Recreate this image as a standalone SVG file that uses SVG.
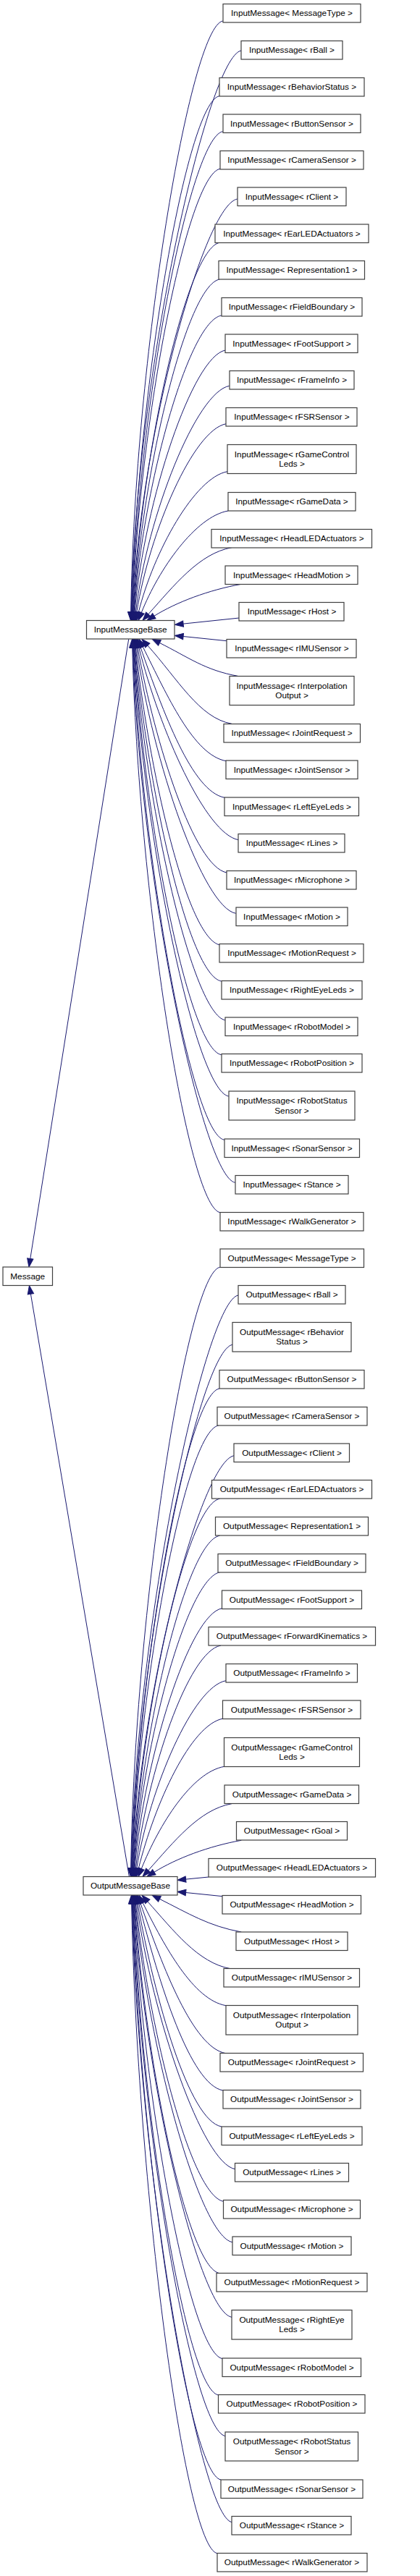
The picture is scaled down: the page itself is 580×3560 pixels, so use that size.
<svg xmlns="http://www.w3.org/2000/svg" width="580" height="3560" viewBox="0 0 580 3560">
<style>
.n rect{fill:#fff;stroke:#404040;stroke-width:1.2}
.n text{font-family:"Liberation Sans",Arial,Helvetica,sans-serif;font-size:11.8px;fill:#000;text-anchor:middle}
.e{fill:none;stroke:#191970;stroke-width:1;marker-end:url(#ah)}
</style>
<defs>
<marker id="ah" markerUnits="userSpaceOnUse" viewBox="0 -5 13 10" refX="0" refY="0" markerWidth="13" markerHeight="10" orient="auto" overflow="visible"><path d="M0,-4.2 L11.7,0 L0,4.2 Z" fill="#191970" stroke="#191970" stroke-width="1"/></marker>
</defs>
<rect width="580" height="3560" fill="#fff"/>
<g id="edges">
<path class="e" d="M177.7,883.3 L41.8,1739.4"/>
<path class="e" d="M178.4,2593.5 L42.4,1788.2"/>
<path class="e" d="M307.7,29 C262.7,37 186,494.6 180.7,845.8"/>
<path class="e" d="M333,70 C288,78 187.9,512.2 181.2,845.8"/>
<path class="e" d="M303,132.7 C258,140.7 189.5,539.2 181.8,845.8"/>
<path class="e" d="M307.7,181.7 C262.7,189.7 191,560.2 182.4,845.8"/>
<path class="e" d="M304,233.3 C259,241.3 192.1,582.4 182.9,845.8"/>
<path class="e" d="M327.7,275 C282.7,283 193.3,600.4 183.5,845.8"/>
<path class="e" d="M303.3,335.3 C258.3,343.3 195.1,626.3 184.1,845.8"/>
<path class="e" d="M303.3,386 C258.3,394 196.6,648.1 184.7,845.8"/>
<path class="e" d="M305.7,436 C260.7,444 197.6,669.6 185.3,845.8"/>
<path class="e" d="M311.3,484 C266.3,492 200,690.2 186,845.8"/>
<path class="e" d="M316.7,533.3 C271.7,541.3 203.5,711.5 187.4,845.9"/>
<path class="e" d="M312.3,585.7 C267.3,593.7 206.7,734 188.8,845.9"/>
<path class="e" d="M314,651.7 C269,659.7 212.2,762.5 191.3,846.1"/>
<path class="e" d="M315,706 C270,714 219.5,786.1 195.3,846.6"/>
<path class="e" d="M320,756.7 C275,764.7 240.4,809.2 204.8,848.8"/>
<path class="e" d="M333.3,807.3 C288.3,815.3 243.2,832.4 212.9,851.3"/>
<path class="e" d="M330.3,854 L253.1,862.1"/>
<path class="e" d="M313,885.7 L253.1,879.5"/>
<path class="e" d="M328.3,934.3 C283.3,926.3 259.9,908.2 220.5,888.5"/>
<path class="e" d="M320,1000.3 C275,992.3 245.7,938.6 203.8,892"/>
<path class="e" d="M312.3,1051.7 C267.3,1043.7 231.2,961.7 197.2,893.8"/>
<path class="e" d="M310.3,1102.3 C265.3,1094.3 225.2,983.7 193.9,894.3"/>
<path class="e" d="M329.3,1160.7 C284.3,1152.7 220.4,1009.1 191.8,894.7"/>
<path class="e" d="M313.3,1206 C268.3,1198 214.2,1028.6 190.1,894.8"/>
<path class="e" d="M325.7,1262.3 C280.7,1254.3 210.7,1052.9 188.6,894.9"/>
<path class="e" d="M304,1306 C259,1298 206.7,1071.7 187.3,894.9"/>
<path class="e" d="M305.7,1356 C260.7,1348 204.3,1093.2 186.5,895"/>
<path class="e" d="M311.3,1410 C266.3,1402 201.3,1116.5 185.8,895"/>
<path class="e" d="M305.7,1457.7 C260.7,1449.7 199.7,1137 185.2,895"/>
<path class="e" d="M315.7,1515 C270.7,1507 197.9,1161.6 184.6,895"/>
<path class="e" d="M309.7,1575.3 C264.7,1567.3 195.7,1187.5 184,895"/>
<path class="e" d="M324.7,1634.3 C279.7,1626.3 192.9,1212.9 183.4,895"/>
<path class="e" d="M304,1675.7 C259,1667.7 191.2,1230.7 182.8,895"/>
<path class="e" d="M303.7,1751.3 C258.7,1759.3 186.1,2224.7 180.7,2581.8"/>
<path class="e" d="M329,1790 C284,1798 188,2241.3 181.2,2581.8"/>
<path class="e" d="M321,1858.3 C276,1866.3 189.6,2270.7 181.8,2581.8"/>
<path class="e" d="M303,1919 C258,1927 191,2296.8 182.4,2581.8"/>
<path class="e" d="M301.7,1970 C256.7,1978 192.1,2318.7 182.9,2581.8"/>
<path class="e" d="M323.3,2011.7 C278.3,2019.7 193.3,2336.7 183.5,2581.8"/>
<path class="e" d="M303.3,2071.3 C258.3,2079.3 195.1,2362.3 184.1,2581.8"/>
<path class="e" d="M303.3,2122.3 C258.3,2130.3 196.6,2384.2 184.7,2581.8"/>
<path class="e" d="M304,2172.7 C259,2180.7 197.6,2405.9 185.3,2581.8"/>
<path class="e" d="M306.7,2222.7 C261.7,2230.7 199.9,2427.4 186,2581.8"/>
<path class="e" d="M305,2274 C260,2282 203.3,2449.5 187.4,2581.9"/>
<path class="e" d="M312,2322.7 C267,2330.7 206.6,2470.4 188.8,2581.9"/>
<path class="e" d="M308.3,2375 C263.3,2383 213.6,2493 191.3,2582.1"/>
<path class="e" d="M309.7,2441.3 C264.7,2449.3 219.6,2521.8 195.3,2582.6"/>
<path class="e" d="M320,2492.7 C275,2500.7 240.4,2545.2 204.8,2584.8"/>
<path class="e" d="M333.3,2543.3 C288.3,2551.3 243.2,2568.4 212.9,2587.3"/>
<path class="e" d="M288,2594 L256.6,2597.1"/>
<path class="e" d="M307.3,2620.7 L256.6,2615.5"/>
<path class="e" d="M333.3,2670 C288.3,2662 259.7,2644 220.5,2624.4"/>
<path class="e" d="M318.3,2720.7 C273.3,2712.7 239.7,2667.8 203.8,2627.9"/>
<path class="e" d="M312,2771.7 C267,2763.7 227.8,2690.8 197.2,2629.7"/>
<path class="e" d="M311.7,2837.7 C266.7,2829.7 225.1,2719.4 193.9,2630.2"/>
<path class="e" d="M308,2889 C263,2881 219.6,2741.7 191.8,2630.6"/>
<path class="e" d="M306,2939 C261,2931 214,2763.3 190.1,2630.7"/>
<path class="e" d="M324.7,2997.7 C279.7,2989.7 210.7,2788.6 188.6,2630.8"/>
<path class="e" d="M308.7,3042.3 C263.7,3034.3 206.8,2807.7 187.3,2630.8"/>
<path class="e" d="M321,3098.7 C276,3090.7 204.6,2832.1 186.5,2630.9"/>
<path class="e" d="M303.3,3141.7 C258.3,3133.7 201.2,2850.5 185.8,2630.9"/>
<path class="e" d="M320,3202.3 C275,3194.3 199.9,2876.6 185.2,2630.9"/>
<path class="e" d="M307.3,3259.7 C262.3,3251.7 198.1,2901.3 184.6,2630.9"/>
<path class="e" d="M301.7,3310 C256.7,3302 195.7,2922.9 184,2630.9"/>
<path class="e" d="M311.3,3366.7 C266.3,3358.7 194.5,2947.3 183.4,2630.9"/>
<path class="e" d="M305,3427 C260,3419 193.2,2973.2 182.9,2630.9"/>
<path class="e" d="M320.3,3485.7 C275.3,3477.7 191.5,2998.5 182.3,2630.9"/>
<path class="e" d="M300,3528.7 C255,3520.7 189.4,3017 181.7,2630.9"/>
</g>
<g id="message" class="n"><rect x="4" y="1751" width="68.5" height="25.5"/><text x="38.2" y="1767.8">Message</text></g>
<g id="inputmessagebase" class="n"><rect x="119.5" y="857.5" width="121.5" height="25.5"/><text x="180.2" y="874.3">InputMessageBase</text></g>
<g id="outputmessagebase" class="n"><rect x="115" y="2593.5" width="130" height="25.5"/><text x="180" y="2610.3">OutputMessageBase</text></g>
<g id="in1" class="n"><rect x="308" y="5.5" width="190" height="25.5"/><text x="403" y="22.3">InputMessage&lt; MessageType &gt;</text></g>
<g id="in2" class="n"><rect x="333" y="56.5" width="140" height="25.5"/><text x="403" y="73.3">InputMessage&lt; rBall &gt;</text></g>
<g id="in3" class="n"><rect x="303" y="107.5" width="200" height="25.5"/><text x="403" y="124.3">InputMessage&lt; rBehaviorStatus &gt;</text></g>
<g id="in4" class="n"><rect x="308" y="158" width="190" height="25.5"/><text x="403" y="174.8">InputMessage&lt; rButtonSensor &gt;</text></g>
<g id="in5" class="n"><rect x="304" y="208.5" width="198" height="25.5"/><text x="403" y="225.3">InputMessage&lt; rCameraSensor &gt;</text></g>
<g id="in6" class="n"><rect x="328" y="259" width="150" height="25.5"/><text x="403" y="275.8">InputMessage&lt; rClient &gt;</text></g>
<g id="in7" class="n"><rect x="297" y="310" width="212" height="25.5"/><text x="403" y="326.8">InputMessage&lt; rEarLEDActuators &gt;</text></g>
<g id="in8" class="n"><rect x="302" y="360.5" width="201.5" height="25.5"/><text x="403" y="377.3">InputMessage&lt; Representation1 &gt;</text></g>
<g id="in9" class="n"><rect x="306" y="411.5" width="194" height="25.5"/><text x="403" y="428.3">InputMessage&lt; rFieldBoundary &gt;</text></g>
<g id="in10" class="n"><rect x="311" y="462" width="183" height="25.5"/><text x="403" y="478.8">InputMessage&lt; rFootSupport &gt;</text></g>
<g id="in11" class="n"><rect x="317" y="512.5" width="172" height="25.5"/><text x="403" y="529.3">InputMessage&lt; rFrameInfo &gt;</text></g>
<g id="in12" class="n"><rect x="312" y="563.5" width="181" height="25.5"/><text x="403" y="580.3">InputMessage&lt; rFSRSensor &gt;</text></g>
<g id="in13" class="n"><rect x="314" y="614.5" width="178" height="40"/><text x="403" y="631.7">InputMessage&lt; rGameControl</text><text x="403" y="645.2">Leds &gt;</text></g>
<g id="in14" class="n"><rect x="315" y="680.5" width="176" height="25.5"/><text x="403" y="697.3">InputMessage&lt; rGameData &gt;</text></g>
<g id="in15" class="n"><rect x="292" y="731.5" width="221.5" height="25.5"/><text x="403" y="748.3">InputMessage&lt; rHeadLEDActuators &gt;</text></g>
<g id="in16" class="n"><rect x="311" y="782" width="183" height="25.5"/><text x="403" y="798.8">InputMessage&lt; rHeadMotion &gt;</text></g>
<g id="in17" class="n"><rect x="330" y="832.5" width="145" height="25.5"/><text x="403" y="849.3">InputMessage&lt; rHost &gt;</text></g>
<g id="in18" class="n"><rect x="313" y="883.5" width="179" height="25.5"/><text x="403" y="900.3">InputMessage&lt; rIMUSensor &gt;</text></g>
<g id="in19" class="n"><rect x="317" y="934.5" width="172" height="40"/><text x="403" y="951.7">InputMessage&lt; rInterpolation</text><text x="403" y="965.2">Output &gt;</text></g>
<g id="in20" class="n"><rect x="309" y="1000.5" width="188.5" height="25.5"/><text x="403" y="1017.3">InputMessage&lt; rJointRequest &gt;</text></g>
<g id="in21" class="n"><rect x="312" y="1051" width="182" height="25.5"/><text x="403" y="1067.8">InputMessage&lt; rJointSensor &gt;</text></g>
<g id="in22" class="n"><rect x="310" y="1102" width="185.5" height="25.5"/><text x="403" y="1118.8">InputMessage&lt; rLeftEyeLeds &gt;</text></g>
<g id="in23" class="n"><rect x="329" y="1152.5" width="147" height="25.5"/><text x="403" y="1169.3">InputMessage&lt; rLines &gt;</text></g>
<g id="in24" class="n"><rect x="313" y="1203.5" width="179" height="25.5"/><text x="403" y="1220.3">InputMessage&lt; rMicrophone &gt;</text></g>
<g id="in25" class="n"><rect x="326" y="1254" width="154" height="25.5"/><text x="403" y="1270.8">InputMessage&lt; rMotion &gt;</text></g>
<g id="in26" class="n"><rect x="303" y="1304.5" width="199" height="25.5"/><text x="403" y="1321.3">InputMessage&lt; rMotionRequest &gt;</text></g>
<g id="in27" class="n"><rect x="306" y="1355.5" width="194" height="25.5"/><text x="403" y="1372.3">InputMessage&lt; rRightEyeLeds &gt;</text></g>
<g id="in28" class="n"><rect x="311" y="1406" width="183" height="25.5"/><text x="403" y="1422.8">InputMessage&lt; rRobotModel &gt;</text></g>
<g id="in29" class="n"><rect x="306" y="1456.5" width="194" height="25.5"/><text x="403" y="1473.3">InputMessage&lt; rRobotPosition &gt;</text></g>
<g id="in30" class="n"><rect x="316" y="1508" width="174" height="40"/><text x="403" y="1525.2">InputMessage&lt; rRobotStatus</text><text x="403" y="1538.7">Sensor &gt;</text></g>
<g id="in31" class="n"><rect x="310" y="1574" width="186.5" height="25.5"/><text x="403" y="1590.8">InputMessage&lt; rSonarSensor &gt;</text></g>
<g id="in32" class="n"><rect x="325" y="1624.5" width="156" height="25.5"/><text x="403" y="1641.3">InputMessage&lt; rStance &gt;</text></g>
<g id="in33" class="n"><rect x="304" y="1675.5" width="198" height="25.5"/><text x="403" y="1692.3">InputMessage&lt; rWalkGenerator &gt;</text></g>
<g id="out1" class="n"><rect x="304" y="1726" width="198.5" height="25.5"/><text x="403" y="1742.8">OutputMessage&lt; MessageType &gt;</text></g>
<g id="out2" class="n"><rect x="329" y="1776.5" width="148" height="25.5"/><text x="403" y="1793.3">OutputMessage&lt; rBall &gt;</text></g>
<g id="out3" class="n"><rect x="321" y="1827.5" width="164" height="40.5"/><text x="403" y="1844.7">OutputMessage&lt; rBehavior</text><text x="403" y="1858.2">Status &gt;</text></g>
<g id="out4" class="n"><rect x="303" y="1893.5" width="200" height="25.5"/><text x="403" y="1910.3">OutputMessage&lt; rButtonSensor &gt;</text></g>
<g id="out5" class="n"><rect x="300" y="1944.5" width="207" height="25.5"/><text x="403" y="1961.3">OutputMessage&lt; rCameraSensor &gt;</text></g>
<g id="out6" class="n"><rect x="323" y="1995" width="159.5" height="25.5"/><text x="403" y="2011.8">OutputMessage&lt; rClient &gt;</text></g>
<g id="out7" class="n"><rect x="292.5" y="2045.5" width="221" height="25.5"/><text x="403" y="2062.3">OutputMessage&lt; rEarLEDActuators &gt;</text></g>
<g id="out8" class="n"><rect x="297.5" y="2096.5" width="211" height="25.5"/><text x="403" y="2113.3">OutputMessage&lt; Representation1 &gt;</text></g>
<g id="out9" class="n"><rect x="301" y="2147.5" width="204" height="25.5"/><text x="403" y="2164.3">OutputMessage&lt; rFieldBoundary &gt;</text></g>
<g id="out10" class="n"><rect x="306.5" y="2198" width="193" height="25.5"/><text x="403" y="2214.8">OutputMessage&lt; rFootSupport &gt;</text></g>
<g id="out11" class="n"><rect x="288" y="2248.5" width="230.5" height="25.5"/><text x="403" y="2265.3">OutputMessage&lt; rForwardKinematics &gt;</text></g>
<g id="out12" class="n"><rect x="312" y="2299.5" width="181.5" height="25.5"/><text x="403" y="2316.3">OutputMessage&lt; rFrameInfo &gt;</text></g>
<g id="out13" class="n"><rect x="307.5" y="2350" width="190.5" height="25.5"/><text x="403" y="2366.8">OutputMessage&lt; rFSRSensor &gt;</text></g>
<g id="out14" class="n"><rect x="309.5" y="2401.5" width="187" height="40"/><text x="403" y="2418.7">OutputMessage&lt; rGameControl</text><text x="403" y="2432.2">Leds &gt;</text></g>
<g id="out15" class="n"><rect x="310" y="2467" width="185.5" height="25.5"/><text x="403" y="2483.8">OutputMessage&lt; rGameData &gt;</text></g>
<g id="out16" class="n"><rect x="326.5" y="2517.5" width="153" height="25.5"/><text x="403" y="2534.3">OutputMessage&lt; rGoal &gt;</text></g>
<g id="out17" class="n"><rect x="288" y="2568.5" width="230.5" height="25.5"/><text x="403" y="2585.3">OutputMessage&lt; rHeadLEDActuators &gt;</text></g>
<g id="out18" class="n"><rect x="307" y="2619.5" width="191.5" height="25.5"/><text x="403" y="2636.3">OutputMessage&lt; rHeadMotion &gt;</text></g>
<g id="out19" class="n"><rect x="326" y="2670" width="154" height="25.5"/><text x="403" y="2686.8">OutputMessage&lt; rHost &gt;</text></g>
<g id="out20" class="n"><rect x="309" y="2720.5" width="187.5" height="25.5"/><text x="403" y="2737.3">OutputMessage&lt; rIMUSensor &gt;</text></g>
<g id="out21" class="n"><rect x="312" y="2771.5" width="182" height="40.5"/><text x="403" y="2788.7">OutputMessage&lt; rInterpolation</text><text x="403" y="2802.2">Output &gt;</text></g>
<g id="out22" class="n"><rect x="304" y="2837.5" width="197.5" height="25.5"/><text x="403" y="2854.3">OutputMessage&lt; rJointRequest &gt;</text></g>
<g id="out23" class="n"><rect x="308" y="2888.5" width="190" height="25.5"/><text x="403" y="2905.3">OutputMessage&lt; rJointSensor &gt;</text></g>
<g id="out24" class="n"><rect x="306" y="2939" width="194" height="25.5"/><text x="403" y="2955.8">OutputMessage&lt; rLeftEyeLeds &gt;</text></g>
<g id="out25" class="n"><rect x="324.5" y="2989.5" width="157" height="25.5"/><text x="403" y="3006.3">OutputMessage&lt; rLines &gt;</text></g>
<g id="out26" class="n"><rect x="308.5" y="3040.5" width="189" height="25.5"/><text x="403" y="3057.3">OutputMessage&lt; rMicrophone &gt;</text></g>
<g id="out27" class="n"><rect x="321" y="3091" width="164" height="25.5"/><text x="403" y="3107.8">OutputMessage&lt; rMotion &gt;</text></g>
<g id="out28" class="n"><rect x="299" y="3141.5" width="208" height="25.5"/><text x="403" y="3158.3">OutputMessage&lt; rMotionRequest &gt;</text></g>
<g id="out29" class="n"><rect x="320" y="3192.5" width="166" height="40.5"/><text x="403" y="3209.7">OutputMessage&lt; rRightEye</text><text x="403" y="3223.2">Leds &gt;</text></g>
<g id="out30" class="n"><rect x="307" y="3259" width="191.5" height="25.5"/><text x="403" y="3275.8">OutputMessage&lt; rRobotModel &gt;</text></g>
<g id="out31" class="n"><rect x="301.5" y="3309.5" width="202.5" height="25.5"/><text x="403" y="3326.3">OutputMessage&lt; rRobotPosition &gt;</text></g>
<g id="out32" class="n"><rect x="311" y="3361" width="183.5" height="40"/><text x="403" y="3378.2">OutputMessage&lt; rRobotStatus</text><text x="403" y="3391.7">Sensor &gt;</text></g>
<g id="out33" class="n"><rect x="305" y="3427" width="196" height="25.5"/><text x="403" y="3443.8">OutputMessage&lt; rSonarSensor &gt;</text></g>
<g id="out34" class="n"><rect x="320" y="3477.5" width="165" height="25.5"/><text x="403" y="3494.3">OutputMessage&lt; rStance &gt;</text></g>
<g id="out35" class="n"><rect x="300" y="3528.5" width="207" height="25.5"/><text x="403" y="3545.3">OutputMessage&lt; rWalkGenerator &gt;</text></g>
</svg>
